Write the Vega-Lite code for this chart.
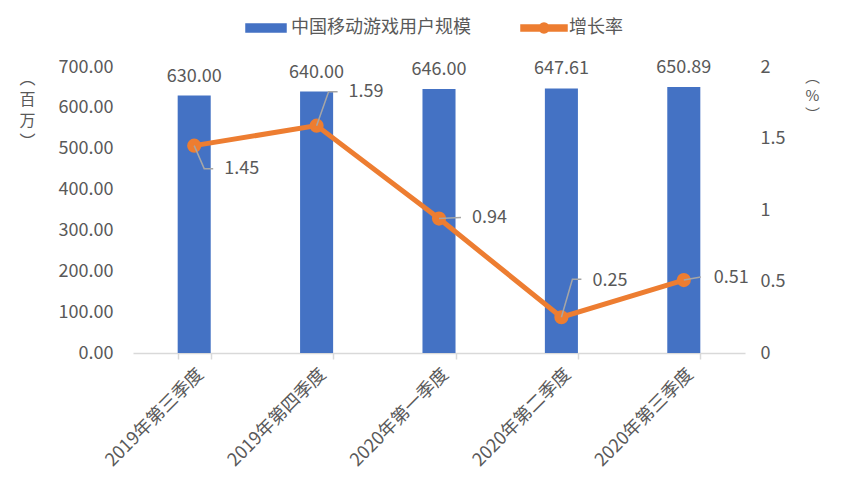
{
  "$schema": "https://vega.github.io/schema/vega-lite/v6.json",
  "autosize": {"type": "none"},
  "width": 612,
  "height": 286,
  "padding": {"left": 133, "top": 67, "right": 98, "bottom": 138},
  "background": "white",
  "data": {
    "values": [
      {"q": "2019年第三季度", "users": 630.00, "rate": 1.45},
      {"q": "2019年第四季度", "users": 640.00, "rate": 1.59},
      {"q": "2020年第一季度", "users": 646.00, "rate": 0.94},
      {"q": "2020年第二季度", "users": 647.61, "rate": 0.25},
      {"q": "2020年第三季度", "users": 650.89, "rate": 0.51}
    ]
  },
  "encoding": {
    "x": {
      "field": "q", "type": "nominal", "sort": null, "title": null,
      "scale": {"paddingInner": 0.73, "paddingOuter": 0.365},
      "axis": {
        "labelAngle": -45, "labelFontSize": 18, "labelPadding": 6,
        "tickBand": "extent", "tickSize": 6, "tickColor": "#D9D9D9",
        "domainColor": "#D9D9D9", "domainWidth": 1.5, "tickWidth": 1.5
      }
    }
  },
  "layer": [
    {
      "encoding": {
        "y": {
          "field": "users", "type": "quantitative",
          "scale": {"domain": [0, 700]},
          "axis": {
            "values": [0, 100, 200, 300, 400, 500, 600, 700],
            "format": ".2f", "domain": false, "ticks": false, "grid": false,
            "labelPadding": 20, "labelFontSize": 18,
            "title": ["︵", "百", "万", "︶"],
            "titleAngle": 0, "titleX": -106, "titleY": 3,
            "titleAlign": "center", "titleBaseline": "top",
            "titleFontSize": 16, "titleFontWeight": "normal", "titleLineHeight": 21
          }
        }
      },
      "layer": [
        {
          "mark": {"type": "bar"},
          "encoding": {
            "color": {
              "datum": "中国移动游戏用户规模",
              "scale": {"domain": ["中国移动游戏用户规模", "增长率"], "range": ["#4472C4", "#ED7D31"]},
              "legend": {
                "title": null, "orient": "none", "direction": "horizontal",
                "legendX": 124, "legendY": -48,
                "labelFontSize": 18, "labelColor": "#595959", "labelFont": "Noto Sans CJK SC",
                "labelLimit": 400,
                "symbolSize": 4, "labelOffset": 16, "columnPadding": 47,
                "encode": {
                  "symbols": {
                    "update": {
                      "shape": {"signal": "datum.value === '增长率' ? 'M-23,-3H23V3H-23Z M-5,0A5,5 0 1,1 5,0A5,5 0 1,1 -5,0Z' : 'M-20,-4H20V4H-20Z'"},
                      "fill": {"signal": "datum.value === '增长率' ? '#ED7D31' : '#4472C4'"},
                      "stroke": {"value": "transparent"},
                      "opacity": {"value": 1}
                    }
                  }
                }
              }
            }
          }
        },
        {
          "mark": {"type": "text", "baseline": "alphabetic", "dy": -14, "fontSize": 18, "color": "#595959"},
          "encoding": {"text": {"field": "users", "type": "quantitative", "format": ".2f"}}
        }
      ]
    },
    {
      "encoding": {
        "y": {
          "field": "rate", "type": "quantitative",
          "scale": {"domain": [0, 2]},
          "axis": {
            "orient": "right",
            "values": [0, 0.5, 1, 1.5, 2],
            "format": "~g", "domain": false, "ticks": false, "grid": false,
            "labelPadding": 15, "labelFontSize": 18,
            "title": ["︵", "%", "︶"],
            "titleAngle": 0, "titleX": 67, "titleY": 2,
            "titleAlign": "center", "titleBaseline": "top",
            "titleFontSize": 15, "titleFontWeight": "normal", "titleLineHeight": 19
          }
        }
      },
      "layer": [
        {
          "mark": {"type": "line", "strokeWidth": 5},
          "encoding": {"color": {"datum": "增长率"}}
        },
        {
          "mark": {"type": "point", "filled": true, "size": 200, "opacity": 1},
          "encoding": {"color": {"datum": "增长率"}}
        },
        {
          "mark": {"type": "point", "filled": false, "size": 4, "stroke": "#A6A6A6", "strokeWidth": 1.5, "opacity": 1},
          "encoding": {
            "shape": {
              "field": "q", "type": "nominal", "legend": null,
              "scale": {
                "domain": ["2019年第三季度", "2019年第四季度", "2020年第一季度", "2020年第二季度", "2020年第三季度"],
                "range": ["M0,0L10,23L19,23", "M0,0L12,-34L21,-34", "M0,0L22,-1", "M0,0L11,-38L20,-38", "M0,0L17,-3"]
              }
            }
          }
        },
        {
          "transform": [{"filter": "datum.q === '2019年第三季度'"}],
          "mark": {"type": "text", "align": "left", "baseline": "middle", "dx": 30, "dy": 23, "fontSize": 18, "color": "#595959"},
          "encoding": {"text": {"field": "rate", "type": "quantitative", "format": ".2f"}}
        },
        {
          "transform": [{"filter": "datum.q === '2019年第四季度'"}],
          "mark": {"type": "text", "align": "left", "baseline": "middle", "dx": 32, "dy": -34, "fontSize": 18, "color": "#595959"},
          "encoding": {"text": {"field": "rate", "type": "quantitative", "format": ".2f"}}
        },
        {
          "transform": [{"filter": "datum.q === '2020年第一季度'"}],
          "mark": {"type": "text", "align": "left", "baseline": "middle", "dx": 33, "dy": -1, "fontSize": 18, "color": "#595959"},
          "encoding": {"text": {"field": "rate", "type": "quantitative", "format": ".2f"}}
        },
        {
          "transform": [{"filter": "datum.q === '2020年第二季度'"}],
          "mark": {"type": "text", "align": "left", "baseline": "middle", "dx": 31, "dy": -36, "fontSize": 18, "color": "#595959"},
          "encoding": {"text": {"field": "rate", "type": "quantitative", "format": ".2f"}}
        },
        {
          "transform": [{"filter": "datum.q === '2020年第三季度'"}],
          "mark": {"type": "text", "align": "left", "baseline": "middle", "dx": 30, "dy": -2, "fontSize": 18, "color": "#595959"},
          "encoding": {"text": {"field": "rate", "type": "quantitative", "format": ".2f"}}
        }
      ]
    }
  ],
  "resolve": {"scale": {"y": "independent"}},
  "config": {
    "font": "Noto Sans CJK SC",
    "view": {"stroke": null},
    "axis": {"labelColor": "#595959", "titleColor": "#595959", "labelFont": "Noto Sans CJK SC", "titleFont": "Noto Sans CJK SC"},
    "text": {"font": "Noto Sans CJK SC"}
  }
}
